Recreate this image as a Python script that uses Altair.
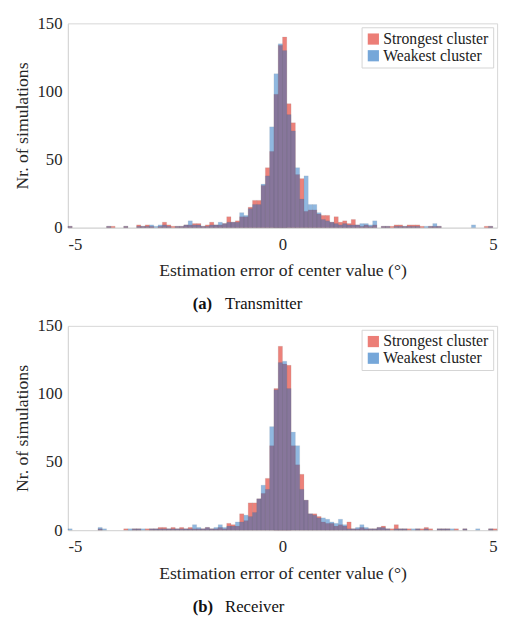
import altair as alt
import numpy as np
import pandas as pd

# ---- data (counts per 0.1-wide bin, from -5.0 to 5.0) ----
SERIES = ["Strongest cluster", "Weakest cluster"]
BIN_START = -5.0
BIN_WIDTH = 0.1

TX_STRONG = [1, 0, 0, 0, 0, 0, 0, 0, 0, 1,
             1, 0, 0, 1, 0, 0, 2, 1, 2, 1,
             0, 1, 4, 2, 1, 1, 1, 2, 2, 3,
             3, 1, 2, 4, 2, 2, 3, 8, 4, 5,
             8, 8, 15, 20, 20, 31, 44, 56, 98, 134,
             140, 91, 77, 39, 36, 12, 13, 13, 10, 9,
             9, 4, 8, 4, 5, 3, 6, 2, 1, 2,
             1, 2, 0, 1, 1, 1, 2, 2, 1, 2,
             2, 2, 1, 0, 1, 1, 1, 0, 0, 0,
             0, 0, 0, 0, 0, 0, 0, 1, 1, 0]
TX_WEAK = [1, 0, 0, 0, 0, 0, 0, 0, 0, 1,
           0, 0, 0, 1, 0, 0, 1, 1, 1, 2,
           1, 2, 2, 1, 0, 1, 1, 2, 5, 2,
           2, 1, 1, 2, 2, 4, 3, 4, 4, 4,
           11, 9, 14, 17, 17, 32, 38, 74, 113, 135,
           130, 83, 71, 44, 21, 38, 17, 17, 11, 6,
           5, 4, 3, 2, 3, 2, 2, 2, 3, 3,
           2, 5, 0, 1, 1, 0, 1, 1, 1, 1,
           1, 1, 0, 1, 1, 3, 1, 0, 0, 0,
           0, 0, 0, 0, 2, 0, 0, 0, 1, 0]
RX_STRONG = [0, 0, 0, 0, 0, 0, 0, 1, 0, 0,
             0, 0, 0, 1, 0, 1, 1, 0, 1, 1,
             1, 2, 2, 1, 2, 1, 2, 1, 2, 1,
             1, 1, 2, 1, 1, 2, 1, 5, 4, 3,
             12, 7, 20, 20, 23, 27, 38, 62, 104, 135,
             122, 121, 62, 48, 41, 22, 12, 12, 10, 6,
             5, 5, 3, 4, 3, 6, 1, 1, 2, 1,
             1, 1, 2, 3, 1, 1, 4, 1, 1, 1,
             0, 1, 1, 2, 1, 0, 1, 1, 1, 0,
             1, 0, 1, 0, 0, 0, 0, 0, 1, 1]
RX_WEAK = [1, 0, 0, 0, 0, 0, 0, 2, 1, 0,
           0, 0, 0, 0, 1, 1, 1, 1, 0, 1,
           1, 1, 1, 1, 1, 1, 1, 1, 1, 4,
           2, 1, 2, 1, 2, 4, 2, 3, 3, 6,
           6, 11, 10, 13, 23, 33, 30, 76, 103, 123,
           124, 104, 72, 62, 30, 22, 12, 11, 9, 9,
           8, 6, 5, 8, 4, 1, 1, 2, 4, 2,
           1, 1, 2, 2, 1, 0, 1, 1, 1, 0,
           1, 1, 0, 1, 0, 0, 1, 1, 1, 1,
           0, 0, 1, 0, 0, 1, 0, 0, 1, 0]

X_TICKS = [-5, 0, 5]
Y_TICKS = [0, 50, 100, 150]
X_TITLE = "Estimation error of center value (°)"
Y_TITLE = "Nr. of simulations"

RED = "#e0281c"
BLUE = "#1a6cc0"
FONT = "Liberation Serif"
W, H = 437, 208


def frame(strong, weak):
    rows = []
    for name, vals in zip(SERIES, (strong, weak)):
        for i, v in enumerate(vals):
            if v > 0:
                s = round(BIN_START + i * BIN_WIDTH, 2)
                rows.append({"start": s, "end": round(s + BIN_WIDTH, 2),
                             "count": v, "series": name})
    return pd.DataFrame(rows)


def panel(df, letter, name):
    color = alt.Color(
        "series:N",
        scale=alt.Scale(domain=SERIES, range=[RED, BLUE]),
        legend=alt.Legend(
            title=None, orient="top-right", offset=4, fillColor="white",
            strokeColor="#d4d4d4", padding=4, labelFont=FONT, labelFontSize=16,
            labelColor="#222222", symbolType="square", symbolSize=130,
            symbolOpacity=0.6, symbolStrokeWidth=0, rowPadding=1, labelOffset=2,
        ),
    )
    x = alt.X("start:Q", scale=alt.Scale(domain=[-5, 5], nice=False, zero=False),
              axis=alt.Axis(values=X_TICKS, title=X_TITLE, labelPadding=9,
                            titlePadding=10, labelFont=FONT, titleFont=FONT,
                            labelExpr="'' + datum.value"))
    y = alt.Y("count:Q", scale=alt.Scale(domain=[0, 150], nice=False),
              axis=alt.Axis(values=Y_TICKS, title=Y_TITLE, labelPadding=6,
                            titlePadding=6, labelFont=FONT, titleFont=FONT))
    base = alt.Chart(df)
    red = base.transform_filter(alt.datum.series == SERIES[0]).mark_rect(
        opacity=0.58, stroke="#333333", strokeWidth=0.4, strokeOpacity=0.35
    ).encode(x=x, x2="end:Q", y=y, y2=alt.datum(0), color=color)
    blue = base.transform_filter(alt.datum.series == SERIES[1]).mark_rect(
        opacity=0.48, stroke="#333333", strokeWidth=0.4, strokeOpacity=0.35
    ).encode(x=x, x2="end:Q", y=y, y2=alt.datum(0), color=color)
    cap1 = alt.Chart(pd.DataFrame({"t": [letter]})).mark_text(
        font=FONT, fontSize=17, fontWeight="bold", align="left",
        baseline="middle", color="#111111"
    ).encode(text="t:N", x=alt.value(127), y=alt.value(H + 78))
    cap2 = alt.Chart(pd.DataFrame({"t": [name]})).mark_text(
        font=FONT, fontSize=17, align="left", baseline="middle", color="#111111"
    ).encode(text="t:N", x=alt.value(127 + 33), y=alt.value(H + 78))
    return alt.layer(red, blue, cap1, cap2).properties(width=W, height=H)


top = panel(frame(TX_STRONG, TX_WEAK), "(a)", "Transmitter")
bottom = panel(frame(RX_STRONG, RX_WEAK), "(b)", "Receiver")

chart = alt.vconcat(top, bottom, spacing=3).resolve_scale(
    color="independent"
).properties(
    padding={"left": 5, "top": 0, "right": 5, "bottom": 5}
).configure_axis(
    labelFont=FONT, labelFontSize=17, labelColor="#262626",
    titleFont=FONT, titleFontSize=18, titleFontWeight="normal", titleColor="#262626",
    domainColor="#d6d6d6", tickSize=0, grid=False,
).configure_text(font=FONT).configure_legend(labelFont=FONT).configure_view(
    stroke="#d6d6d6"
)

chart.save("out.html", embed_options={"renderer": "svg", "actions": False})
